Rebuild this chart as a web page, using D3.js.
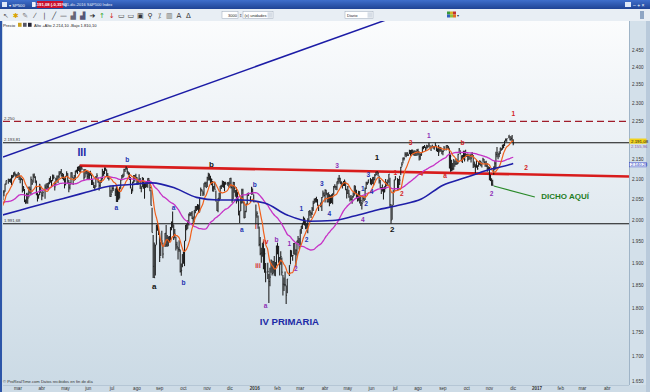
<!DOCTYPE html>
<html><head><meta charset="utf-8">
<script src="https://cdnjs.cloudflare.com/ajax/libs/d3/7.8.5/d3.min.js"></script>
<style>html,body{margin:0;padding:0;background:#fff;overflow:hidden}svg{display:block;font-family:"Liberation Sans",Arial,sans-serif}</style>
</head><body><svg id="c" width="650" height="392"></svg>
<script>
// ---------------- DATA ----------------
const firstDay = "2015-02-02";
const holidays = ["2015-02-16","2015-04-03","2015-05-25","2015-07-03","2015-09-07","2015-11-26","2015-12-25",
 "2016-01-01","2016-01-18","2016-02-15","2016-03-25","2016-05-30","2016-07-04","2016-09-05","2016-11-24"];

// S&P 500 daily lows / highs / closes, Feb 2015 -> 1 Dec 2016
const lows = [
1980.9,2022.7,2036.7,2043.5,2050.5,2041.9,2048.4,2058.4,2069.0,2086.7,2089.0,2093.3,2091.5,2085.6,2103.0,2105.0,2109.0,2103.8,2103.8,
2104.4,2098.3,2090.4,2098.3,2067.3,2071.3,2044.0,2039.7,2041.2,2040.0,2055.2,2065.0,2061.2,2085.6,2091.5,2103.9,2091.5,2061.1,2045.5,2052.0,2061.0,2067.0,
2048.4,2056.7,2052.0,2076.3,2076.3,2074.0,2088.0,2092.1,2083.2,2096.0,2100.5,2072.4,2085.6,2094.4,2091.1,2103.0,2112.5,2107.4,2100.9,2097.4,2077.5,
2085.5,2108.3,2088.4,2067.9,2075.0,2088.0,2104.9,2085.7,2096.9,2098.5,2117.0,2113.7,2120.7,2117.7,2117.5,2123.9,2099.2,2104.9,2112.8,2101.1,
2099.1,2099.1,2109.6,2086.0,2085.7,2078.6,2072.1,2081.1,2103.9,2091.3,2072.5,2079.7,2090.8,2099.3,2108.9,2112.9,2121.5,2107.7,2101.7,2097.4,2056.6,2056.3,
2067.0,2071.0,2058.5,2044.0,2044.0,2049.8,2052.3,2076.6,2096.9,2103.1,2107.4,2118.5,2124.1,2114.2,2110.2,2098.1,2077.2,2063.5,2069.5,2090.0,2094.1,2101.2,
2085.8,2085.7,2094.0,2076.0,2067.9,2080.0,2076.5,2052.1,2078.2,2080.6,2079.3,2094.1,2070.5,2035.7,1970.9,1867.0,1867.1,1872.8,1942.8,1975.2,1965.1,
1903.1,1916.5,1944.4,1911.8,1937.2,1937.9,1937.8,1939.2,1948.5,1953.0,1976.2,1982.3,1953.6,1958.0,1929.2,1933.3,1908.9,1926.2,1879.2,1871.9,1891.4,
1899.0,1893.7,1951.4,1976.4,1979.9,1987.5,2009.8,2010.0,2002.9,1990.7,1995.5,2016.8,2022.3,2025.0,2017.2,2019.0,2058.8,2069.6,2058.8,2059.8,2081.2,2079.2,
2080.8,2097.1,2097.1,2089.4,2085.5,2069.9,2069.3,2074.9,2045.4,2022.0,2019.4,2045.7,2050.9,2075.9,2081.2,2078.9,2070.3,2086.3,2084.1,2080.3,
2080.4,2077.1,2042.4,2051.2,2066.8,2056.8,2040.3,2045.5,2011.9,1993.3,2022.0,2040.1,2041.7,2005.1,2005.6,2019.4,2039.0,2058.7,2043.6,2061.9,2062.5,2043.6,
1989.7,2005.9,1979.9,1938.8,1918.5,1901.1,1915.0,1886.4,1878.9,1857.8,1864.6,1812.3,1848.9,1878.9,1872.7,1877.1,1872.2,1871.2,1894.4,
1920.5,1901.1,1872.7,1896.8,1872.7,1828.5,1838.1,1849.0,1810.1,1833.4,1871.4,1897.8,1915.1,1906.1,1920.3,1919.4,1891.0,1917.8,1947.3,1931.8,
1937.1,1968.4,1979.6,1989.4,1987.5,1979.6,1979.8,1969.2,1996.9,2011.1,2005.2,2012.4,2022.5,2040.6,2042.9,2043.1,2034.9,2022.5,2031.3,2022.5,2055.9,2057.6,
2043.1,2060.6,2042.6,2042.6,2033.8,2039.7,2041.7,2038.7,2062.0,2078.0,2073.3,2073.0,2087.8,2092.3,2088.6,2082.1,2077.5,2083.4,2083.4,2073.1,2052.3,
2063.4,2054.3,2045.4,2048.1,2039.5,2054.6,2059.3,2064.5,2051.9,2045.4,2047.3,2040.2,2034.5,2025.9,2043.1,2047.3,2049.0,2075.8,2085.7,2090.1,2087.1,
2085.4,2088.6,2085.1,2097.7,2109.4,2112.1,2107.7,2089.4,2078.5,2063.7,2069.7,2050.4,2067.2,2075.6,2083.3,2084.6,2091.3,2032.6,1991.7,2001.0,2036.3,2071.6,
2097.9,2074.0,2074.0,2085.8,2110.6,2131.7,2140.0,2147.6,2157.0,2155.8,2159.0,2159.1,2164.6,2159.8,2162.9,2163.2,2160.4,2159.0,2159.1,2159.7,
2161.4,2147.6,2149.8,2159.5,2168.2,2177.0,2179.9,2172.4,2177.9,2179.4,2184.1,2178.4,2172.2,2181.1,2178.3,2175.1,2184.0,2171.3,2169.7,2159.5,2170.2,2170.2,2164.0,
2161.1,2172.4,2173.3,2178.5,2177.2,2127.8,2119.1,2120.3,2122.4,2124.4,2131.9,2135.9,2136.9,2139.6,2166.0,2163.5,2145.2,2141.6,2150.3,2144.9,2156.5,
2156.5,2144.9,2150.5,2149.3,2142.6,2155.9,2128.9,2130.8,2114.7,2129.3,2124.4,2131.6,2136.3,2132.8,2130.0,2144.2,2139.8,2132.0,2131.5,2119.4,2124.4,
2097.9,2095.6,2083.8,2083.8,2111.8,2123.6,2125.4,2156.1,2151.2,2156.2,2164.4,2172.9,2175.4,2179.2,2185.3,2196.8,2196.1,2205.1,2199.3,2199.4,2198.1,
2187.4];
const highs = [
2021.7,2050.3,2054.7,2063.6,2072.4,2056.2,2070.9,2073.5,2089.0,2097.0,2101.3,2100.4,2102.1,2110.6,2110.0,2117.9,2119.6,2113.9,2112.7,
2117.5,2115.8,2107.7,2104.2,2100.9,2083.5,2076.2,2050.1,2066.4,2064.6,2081.4,2080.6,2106.9,2098.7,2113.9,2114.9,2107.6,2097.4,2067.2,2062.8,2088.9,2084.1,
2067.6,2072.2,2086.9,2089.8,2090.6,2092.4,2102.6,2107.7,2098.3,2111.9,2111.3,2094.9,2103.9,2109.6,2109.6,2120.5,2120.9,2125.9,2116.0,2113.2,2105.1,
2108.4,2120.5,2115.2,2098.4,2092.9,2117.7,2117.7,2105.1,2111.0,2121.5,2123.9,2131.8,2133.0,2134.7,2131.8,2132.0,2126.2,2126.1,2122.9,2120.9,
2119.2,2117.6,2121.9,2112.1,2100.0,2093.0,2085.7,2108.5,2115.0,2104.9,2094.1,2097.4,2106.8,2126.6,2121.2,2130.0,2129.9,2125.1,2116.0,2108.9,2084.0,2074.3,
2082.8,2085.1,2077.5,2083.7,2079.1,2074.3,2081.3,2100.7,2111.0,2114.2,2126.6,2127.0,2132.8,2128.9,2119.6,2116.9,2106.0,2077.5,2094.1,2110.6,2110.6,2114.2,
2105.7,2101.5,2112.7,2103.5,2082.6,2105.4,2103.2,2089.1,2092.9,2092.8,2102.9,2103.5,2096.2,2073.5,2029.9,1965.1,1948.0,1943.1,1989.6,1993.5,1986.7,
1970.4,1948.9,1975.0,1947.8,1970.1,1988.6,1965.0,1961.0,1963.1,1983.8,1997.3,2020.9,1989.6,1979.6,1961.0,1949.5,1937.2,1952.9,1931.4,1899.5,1920.5,
1927.2,1951.4,1989.4,1991.6,1999.8,2016.5,2020.1,2018.7,2022.3,2009.3,2024.2,2033.5,2034.5,2039.1,2037.9,2055.2,2079.7,2075.1,2070.4,2090.4,2094.1,2094.3,
2106.2,2116.5,2114.6,2108.8,2101.9,2095.9,2083.7,2093.8,2072.3,2044.7,2053.2,2066.8,2083.3,2086.7,2097.1,2095.6,2094.1,2093.8,2093.3,2093.8,
2103.4,2104.3,2085.0,2093.8,2093.2,2073.4,2080.3,2068.9,2052.2,2022.9,2053.9,2076.7,2076.4,2044.5,2022.9,2039.6,2064.7,2067.4,2057.8,2081.6,2077.3,2062.5,
2038.2,2021.9,2011.7,1985.3,1960.4,1935.7,1947.4,1950.3,1934.5,1900.5,1901.4,1876.2,1889.9,1908.9,1906.3,1905.5,1916.8,1902.9,1940.2,
1947.2,1939.4,1914.3,1927.4,1913.1,1873.7,1868.3,1881.6,1850.5,1864.8,1895.8,1930.7,1930.0,1918.8,1946.7,1946.7,1932.1,1951.8,1962.9,1958.0,
1978.4,1986.5,1993.7,2009.1,2006.1,1998.5,1992.7,2005.1,2022.4,2024.6,2020.4,2032.0,2047.0,2052.4,2053.9,2056.6,2051.0,2036.7,2043.0,2056.0,2072.2,2067.9,
2075.1,2074.0,2066.1,2067.3,2062.9,2060.6,2062.9,2065.3,2083.2,2087.8,2083.2,2094.7,2104.1,2111.1,2103.9,2095.5,2091.6,2096.0,2099.9,2094.3,2075.8,
2083.4,2074.4,2060.0,2061.2,2057.7,2067.9,2084.9,2083.8,2073.9,2064.1,2071.9,2070.8,2060.6,2044.6,2058.4,2055.6,2079.9,2094.3,2094.1,2099.1,2103.5,
2100.0,2105.3,2106.0,2113.3,2119.2,2120.6,2118.1,2109.0,2098.1,2081.1,2087.1,2079.6,2082.9,2100.7,2094.3,2099.5,2113.3,2103.8,2038.3,2036.1,2073.0,2098.9,
2108.7,2102.9,2100.7,2109.1,2131.7,2143.2,2155.4,2156.5,2169.1,2168.9,2169.1,2163.9,2175.6,2174.6,2175.6,2175.6,2173.5,2174.0,2172.9,2177.1,
2178.3,2170.8,2165.7,2168.2,2182.9,2185.4,2187.7,2183.4,2188.5,2186.3,2193.8,2187.8,2183.6,2188.5,2185.4,2185.2,2193.4,2186.3,2179.4,2187.9,2183.5,2182.3,2174.8,
2173.6,2184.9,2186.6,2187.9,2185.4,2179.4,2163.3,2149.4,2141.3,2151.3,2146.5,2153.6,2150.8,2165.1,2179.9,2173.8,2161.1,2161.8,2172.7,2172.7,2175.3,
2164.4,2165.5,2163.9,2162.9,2165.9,2169.6,2161.6,2145.4,2138.2,2149.2,2135.6,2144.4,2148.4,2147.2,2142.6,2154.8,2151.5,2145.7,2147.1,2140.7,2133.3,
2131.1,2111.8,2102.6,2099.1,2132.4,2146.9,2170.1,2182.3,2165.9,2171.4,2180.8,2179.2,2188.1,2189.9,2198.7,2204.8,2204.2,2213.4,2211.6,2210.5,2214.1,
2202.6];
const closes = [
2020.9,2050.0,2041.5,2062.5,2055.5,2046.7,2068.6,2068.5,2088.5,2097.0,2100.3,2099.7,2097.5,2110.3,2109.7,2115.5,2113.9,2110.7,2104.5,
2117.4,2107.8,2098.5,2101.0,2071.3,2079.4,2044.2,2040.2,2066.0,2053.4,2081.2,2074.3,2099.5,2089.3,2108.1,2104.4,2091.5,2061.1,2056.2,2061.0,2086.2,2067.9,
2059.7,2067.0,2080.6,2076.3,2081.9,2091.2,2102.1,2092.4,2095.8,2106.6,2105.0,2081.2,2100.4,2097.3,2108.0,2112.9,2117.7,2108.9,2114.8,2106.9,2085.5,
2108.3,2114.5,2089.5,2080.2,2088.0,2116.1,2105.3,2099.1,2098.5,2121.1,2122.7,2129.2,2127.8,2125.9,2130.8,2126.1,2104.2,2123.5,2120.8,2107.4,
2111.7,2109.6,2114.1,2095.8,2092.8,2079.3,2080.2,2105.2,2108.9,2094.1,2084.4,2096.3,2100.4,2121.2,2110.0,2122.9,2124.2,2108.6,2102.3,2101.5,2057.6,2063.1,
2077.4,2076.8,2068.8,2081.3,2046.7,2051.3,2076.6,2099.6,2109.0,2107.4,2124.3,2126.6,2128.3,2119.2,2114.2,2102.2,2079.7,2067.6,2093.3,2108.6,2108.6,2103.8,
2098.0,2093.3,2099.8,2083.6,2077.6,2104.2,2084.1,2086.1,2083.4,2091.5,2102.4,2096.9,2079.6,2035.7,1970.9,1893.2,1867.6,1940.5,1987.7,1988.9,1972.2,
1913.9,1948.9,1951.1,1921.2,1969.4,1942.0,1952.3,1961.1,1953.0,1978.1,1995.3,1990.2,1958.0,1967.0,1942.7,1938.8,1932.2,1931.3,1881.8,1884.1,1920.0,
1923.8,1951.4,1987.1,1979.9,1995.8,2013.4,2014.9,2017.5,2003.7,1994.2,2023.9,2033.1,2033.7,2030.8,2018.9,2052.5,2075.2,2071.2,2065.9,2090.4,2089.4,2079.4,
2104.1,2109.8,2102.3,2099.9,2099.2,2078.6,2081.7,2075.0,2046.0,2023.0,2053.2,2050.4,2083.6,2081.2,2089.2,2086.6,2089.1,2088.9,2090.1,2080.4,
2102.6,2079.5,2049.6,2091.7,2077.1,2063.6,2047.6,2052.2,2012.4,2021.9,2043.4,2073.1,2041.9,2005.6,2021.2,2039.0,2064.3,2061.0,2056.5,2078.4,2063.4,2043.9,
2012.7,2016.7,1990.3,1943.1,1922.0,1923.7,1938.7,1890.3,1921.8,1880.3,1881.3,1859.3,1869.0,1906.9,1877.1,1903.6,1883.0,1893.4,1940.2,
1939.4,1903.0,1912.5,1915.5,1880.1,1853.4,1852.2,1851.9,1829.1,1864.8,1895.6,1926.8,1917.8,1917.8,1945.5,1921.3,1929.8,1951.7,1948.1,1932.2,
1978.4,1986.5,1993.4,2000.0,2001.8,1979.3,1989.3,1989.6,2022.2,2019.6,2015.9,2027.2,2040.6,2049.6,2051.6,2049.8,2036.7,2035.9,2037.1,2055.0,2064.0,2059.7,
2072.8,2066.1,2045.2,2066.7,2041.9,2047.6,2042.0,2061.7,2082.4,2082.8,2080.7,2094.3,2100.8,2102.4,2091.5,2091.6,2087.8,2091.7,2095.2,2075.8,2065.3,
2081.4,2063.4,2051.1,2050.6,2057.1,2058.7,2084.4,2064.5,2064.1,2046.6,2066.7,2047.2,2047.6,2040.0,2052.3,2048.0,2076.1,2090.5,2090.1,2099.1,2097.0,
2099.3,2105.3,2099.1,2109.4,2112.1,2119.1,2115.5,2096.1,2079.1,2075.3,2071.5,2078.0,2071.2,2083.3,2088.9,2085.5,2113.3,2037.4,2000.5,2036.1,2070.8,2098.9,
2103.0,2088.6,2099.7,2097.9,2129.9,2137.2,2152.1,2152.4,2163.8,2161.7,2166.9,2163.8,2173.0,2165.2,2175.0,2168.5,2169.2,2166.6,2170.1,2173.6,
2170.8,2157.0,2163.8,2164.3,2182.9,2180.9,2181.7,2175.5,2185.8,2184.1,2190.2,2178.2,2182.2,2187.0,2183.9,2182.6,2186.9,2175.4,2172.5,2169.0,2180.4,2176.1,2171.0,
2170.9,2180.0,2186.5,2186.2,2181.3,2127.8,2159.0,2127.0,2125.8,2147.3,2139.2,2139.1,2139.8,2163.1,2177.2,2164.7,2146.1,2159.9,2171.4,2151.1,2168.3,
2161.2,2150.5,2159.7,2160.8,2153.7,2163.7,2136.7,2139.2,2132.6,2133.0,2126.5,2139.6,2144.3,2141.3,2141.2,2151.3,2143.2,2139.4,2133.0,2126.4,2126.2,
2111.7,2097.9,2088.7,2085.2,2131.5,2139.6,2163.3,2167.5,2164.5,2164.2,2180.4,2176.9,2187.1,2181.9,2198.2,2202.9,2204.7,2213.4,2201.7,2204.7,2198.8,
2191.08];
// closes before the first bar (Nov 2014 - Jan 2015), used to seed the averages
const priorCloses = [2041.3,2051.8,2048.7,2052.8,2063.5,2069.4,2067.0,2072.8,2067.6,
2053.4,2066.6,2074.3,2071.9,2075.4,2060.3,2059.8,2026.1,2035.3,2002.3,1989.6,1972.7,2012.9,2061.2,2070.7,2078.5,2082.2,2081.9,2088.8,2090.6,2080.4,2058.9,
2058.2,2020.6,2002.6,2025.9,2062.1,2044.8,2028.3,2023.0,2011.3,1992.7,2019.4,2022.6,2032.1,2063.2,2051.8,2057.1,2029.6,2002.2,2021.3,1995.0];
const fastPeriod = 10, midPeriod = 50;
// 200-session average (every 20 sessions + last)
const slowIdx  = [0,20,40,60,80,100,120,140,160,180,200,220,240,260,280,300,320,340,360,380,400,420,440,460,463];
const slowVals = [2008.8,2023.4,2038.2,2052.8,2067.8,2082.2,2087.2,2091.3,2078.4,2055.4,2049.0,2049.0,2041.6,2012.6,1997.8,1999.4,2010.2,2024.7,2036.7,2051.4,2085.4,2104.4,2123.0,2137.4,2140.28];

const yTicks = [2450,2400,2350,2300,2250,2150,2100,2050,2000,1950,1900,1850,1800,1750,1700,1650];
const monthLabels = ["mar","abr","may","jun","jul","ago","sep","oct","nov","dic","2016","feb","mar","abr","may","jun","jul","ago","sep","oct","nov","dic","2017","feb","mar","abr"];
const hLevels = [{v:2250, label:"2.250", kind:"dash"},{v:2193.81,label:"2.193,81",kind:"solid"},{v:1991.68,label:"1.991,68",kind:"solid"}];
const trendBlue = [["2015-02-02",2150.8],["2015-09-01",2305.8]];
const trendRed  = [["2015-05-20",2134.7],["2016-11-01",2114.2]];
const greenArrow = [["2016-11-07",2083.4],["2016-12-29",2056.2]];
const annText  = ["III","b","a","b","a","a","b","a","b","i","iii","iv","b","a","1","2","1","2","3","4","3","4","1","2","3","4","1","2","1","2","3","4","1","a","b","2","1","2","DICHO AQUÍ","IV PRIMARIA"];
const annDate  = ["2015-05-22","2015-07-21","2015-07-07","2015-11-06","2015-09-18","2015-08-25","2015-10-01","2015-12-16","2016-01-01","2016-01-04","2016-01-06","2016-01-15","2016-01-29","2016-01-15","2016-02-16","2016-02-24","2016-03-02","2016-03-09","2016-03-29","2016-04-07","2016-04-18","2016-05-20","2016-05-20","2016-05-25","2016-05-27","2016-06-01","2016-06-08","2016-06-28","2016-07-01","2016-07-11","2016-07-21","2016-08-04","2016-08-15","2016-09-05","2016-09-27","2016-11-03","2016-12-01","2016-12-19","2017-02-07","2016-02-16"];
const annPrice = [2169.5,2151.5,2031.9,2138.7,2031.9,1847.2,1856.0,1979.3,2085.9,1986.4,1896.2,1951.2,1953.6,1807.9,1944.3,1889.4,2027.1,1953.6,2088.4,2017.4,2136.2,2003.0,2076.0,2039.2,2113.4,2071.0,2156.6,1977.0,2118.4,2066.1,2195.5,2115.9,2213.9,2110.9,2195.5,2066.1,2270.1,2131.1,2058.7,1773.7];
const annKind  = ["roman","blue","blue","black","blue","black","blue","blue","blue","red","red","red","purple","purple","purple","purple","blue","blue","blue","blue","purple","purple","blue","blue","blue","blue","black","black","red","red","red","red","purple","red","red","purple","red","red","green","title"];

// ---------------- RENDER ----------------
const W = 650, H = 392;
const P = {l:3, r:629, t:21, b:385};
const svg = d3.select("#c");
const parse = d3.utcParse("%Y-%m-%d");
const d0 = parse(firstDay);
function wIdx(d){ const days = Math.round((d - d0)/864e5); const wk = Math.floor(days/7); return wk*5 + Math.min(days - wk*7, 5); }
const hol = new Set(holidays);
const fmtD = d3.utcFormat("%Y-%m-%d");
const dates = [];
for (let d = new Date(d0); dates.length < lows.length; d = d3.utcDay.offset(d, 1)) {
  const wd = d.getUTCDay(); if (wd === 0 || wd === 6 || hol.has(fmtD(d))) continue; dates.push(new Date(d));
}
const x = d3.scaleLinear().domain([wIdx(parse("2016-01-01")), wIdx(parse("2017-01-02"))]).range([254.8, 537]);
const y = d3.scaleLog().domain([1650, 2450]).range([381.7, 50]);
const X = d => x(wIdx(typeof d === "string" ? parse(d) : d));
const loc = d3.formatLocale({decimal:",", thousands:".", grouping:[3], currency:["",""]});
const f0 = loc.format(",.0f"), f2 = loc.format(",.2f");

const defs = svg.append("defs");
const bg = defs.append("linearGradient").attr("id","bg").attr("x1",0).attr("y1",0).attr("x2",0).attr("y2",1);
bg.append("stop").attr("offset","0%").attr("stop-color","#fbfcfd");
bg.append("stop").attr("offset","100%").attr("stop-color","#cbdae5");
const tb = defs.append("linearGradient").attr("id","tb").attr("x1",0).attr("y1",0).attr("x2",0).attr("y2",1);
tb.append("stop").attr("offset","0%").attr("stop-color","#3f6fcc");
tb.append("stop").attr("offset","100%").attr("stop-color","#1f4394");
defs.append("clipPath").attr("id","clip").append("rect").attr("x",P.l).attr("y",P.t).attr("width",P.r-P.l).attr("height",P.b-P.t);

// frame
svg.append("rect").attr("width",W).attr("height",H).attr("fill","#cddbe6");
svg.append("rect").attr("x",P.l).attr("y",P.t).attr("width",P.r-P.l).attr("height",P.b-P.t).attr("fill","url(#bg)");
svg.append("rect").attr("x",P.r).attr("y",P.t).attr("width",17).attr("height",P.b-P.t).attr("fill","#d3e0ea");
svg.append("line").attr("x1",P.r+0.5).attr("x2",P.r+0.5).attr("y1",P.t).attr("y2",P.b).attr("stroke","#9fb4c7");
svg.append("line").attr("x1",P.l).attr("x2",P.r).attr("y1",P.b+0.5).attr("y2",P.b+0.5).attr("stroke","#b5c6d5");
svg.append("rect").attr("x",0).attr("y",9).attr("width",2).attr("height",H-9).attr("fill","#2c55a8");
svg.append("rect").attr("x",646).attr("y",9).attr("width",4).attr("height",H-9).attr("fill","#b9cadb");

// title bar
svg.append("rect").attr("width",W).attr("height",9).attr("fill","url(#tb)");
svg.append("rect").attr("x",2).attr("y",2).attr("width",5).attr("height",5).attr("fill","#dfe9f8");
svg.append("text").attr("x",9).attr("y",6.6).attr("font-size",4.2).attr("fill","#fff").text("▾ SP500");
svg.append("rect").attr("x",32).attr("y",2).attr("width",3.5).attr("height",5).attr("fill","#e8eef8");
svg.append("rect").attr("x",37).attr("y",1).attr("width",26).attr("height",7).attr("fill","#c8102e");
svg.append("text").attr("x",50).attr("y",6.4).attr("text-anchor","middle").attr("font-size",4.2).attr("font-weight","bold").attr("fill","#fff").text("2.191,08 (-0,35%)");
svg.append("text").attr("x",64.5).attr("y",6.4).attr("font-size",4).attr("fill","#e4ecfa").text("01-dic-2016  S&P500 Index");
svg.append("rect").attr("x",625).attr("y",2).attr("width",6).attr("height",5).attr("fill","#dfe8f6");
svg.append("text").attr("x",633).attr("y",6.8).attr("font-size",5).attr("fill","#fff").text("–  + ×");

// toolbar
svg.append("rect").attr("x",0).attr("y",9).attr("width",W).attr("height",12).attr("fill","#e8eef4");
const icons = [["↖","#666"],["✱","#d9a400"],["✎","#777"],["⁄","#444"],["|","#444"],["╱","#334"],["—","#333"],["▟","#667"],["▟","#557"],["➔","#222"],["↑","#28a428"],["↓","#d02020"],["▭","#333"],["▭","#333"],["▣","#333"],["⚲","#333"],["⁒","#555"],["▥","#666"],["A","#333"],["Δ","#333"]];
icons.forEach((ic,i)=>svg.append("text").attr("x",6+i*9.6).attr("y",18.3).attr("text-anchor","middle").attr("font-size",7).attr("fill",ic[1]).attr("font-family","DejaVu Sans").text(ic[0]));
svg.append("rect").attr("x",222).attr("y",11.5).attr("width",16).attr("height",7).attr("fill","#fff").attr("stroke","#9aa8b8").attr("stroke-width",0.5);
svg.append("text").attr("x",237).attr("y",16.8).attr("text-anchor","end").attr("font-size",4).attr("fill","#222").text("3000");
svg.append("text").attr("x",238.5).attr("y",16.8).attr("font-size",4).attr("fill","#555").text("⇕");
svg.append("rect").attr("x",243).attr("y",11.5).attr("width",30).attr("height",7).attr("fill","#fff").attr("stroke","#9aa8b8").attr("stroke-width",0.5);
svg.append("text").attr("x",244.5).attr("y",16.8).attr("font-size",4).attr("fill","#222").text("(x) unidades");
svg.append("rect").attr("x",267.5).attr("y",12.3).attr("width",5).attr("height",5.4).attr("fill","#d6dde6");
svg.append("rect").attr("x",345).attr("y",11.5).attr("width",28).attr("height",7).attr("fill","#fff").attr("stroke","#9aa8b8").attr("stroke-width",0.5);
svg.append("text").attr("x",347).attr("y",16.8).attr("font-size",4).attr("fill","#222").text("Diario");
svg.append("rect").attr("x",367.5).attr("y",12.3).attr("width",5).attr("height",5.4).attr("fill","#d6dde6");
[["#3a9a3a",0,0],["#d8b020",3,0],["#c03030",6,0],["#3060c0",0,3],["#8fbf3f",3,3],["#e07020",6,3]].forEach(c=>svg.append("rect").attr("x",447+c[1]).attr("y",11.5+c[2]).attr("width",3).attr("height",3).attr("fill",c[0]));
svg.append("text").attr("x",457).attr("y",17).attr("font-size",4).attr("fill","#333").text("▾");
svg.append("rect").attr("x",640).attr("y",11).attr("width",4).attr("height",8).attr("fill","#8fa6c4");

// plot layer
const g = svg.append("g").attr("clip-path","url(#clip)");

// horizontal levels
hLevels.forEach(h=>{
  g.append("line").attr("x1",P.l).attr("x2",P.r).attr("y1",y(h.v)).attr("y2",y(h.v))
   .attr("stroke",h.kind==="dash"?"#a01c2a":"#111").attr("stroke-width",h.kind==="dash"?1.2:1.1)
   .attr("stroke-dasharray",h.kind==="dash"?"7,4":null);
  g.append("text").attr("x",4).attr("y",y(h.v)-1.6).attr("font-size",4.2).attr("fill","#333").text(h.label);
});

// extend a two-point line to the plot edges (straight in screen space)
function extLine(pts, x0, x1){
  const ax=X(pts[0][0]), ay=y(pts[0][1]), bx=X(pts[1][0]), by=y(pts[1][1]);
  const s=(by-ay)/(bx-ax); return [[x0, ay+(x0-ax)*s],[x1, ay+(x1-ax)*s]];
}
const lb = extLine(trendBlue, P.l, P.r);
g.append("line").attr("x1",lb[0][0]).attr("y1",lb[0][1]).attr("x2",lb[1][0]).attr("y2",lb[1][1]).attr("stroke","#1c1ca6").attr("stroke-width",1.5);
const lr = extLine(trendRed, X(trendRed[0][0]), P.r);
g.append("line").attr("x1",lr[0][0]).attr("y1",lr[0][1]).attr("x2",lr[1][0]).attr("y2",lr[1][1]).attr("stroke","#d81c1c").attr("stroke-width",2.6);

// bars
const n = Math.min(lows.length, highs.length, closes.length, dates.length);
const bars = d3.range(n);
g.append("g").selectAll("line").data(bars).join("line")
  .attr("x1",i=>X(dates[i])).attr("x2",i=>X(dates[i]))
  .attr("y1",i=>y(lows[i])).attr("y2",i=>y(highs[i]))
  .attr("stroke","#1b1b1b").attr("stroke-width",1.05);
g.append("g").selectAll("line").data(bars).join("line")
  .attr("x1",i=>X(dates[i])).attr("x2",i=>X(dates[i])+0.9)
  .attr("y1",i=>y(closes[i])).attr("y2",i=>y(closes[i]))
  .attr("stroke","#1b1b1b").attr("stroke-width",0.8);

// moving averages
const all = priorCloses.concat(closes.slice(0,n));
const off = priorCloses.length;
function sma(p){ return bars.map(i=>d3.mean(all.slice(i+off-p+1, i+off+1))); }
const fast = sma(fastPeriod), mid = sma(midPeriod);
const line = d3.line().x(i=>X(dates[i])).curve(d3.curveMonotoneX);
g.append("path").attr("d", line.y(i=>y(mid[i]))(bars)).attr("fill","none").attr("stroke","#c632c6").attr("stroke-width",1.3);
g.append("path").attr("d", line.y(i=>y(fast[i]))(bars)).attr("fill","none").attr("stroke","#f0601c").attr("stroke-width",1.2);
const slowLine = d3.line().x((d,k)=>X(dates[Math.min(slowIdx[k],n-1)])).y(d=>y(d)).curve(d3.curveMonotoneX);
g.append("path").attr("d", slowLine(slowVals)).attr("fill","none").attr("stroke","#1f1fa8").attr("stroke-width",1.6);

// green pointer
g.append("line").attr("x1",X(greenArrow[0][0])).attr("y1",y(greenArrow[0][1])).attr("x2",X(greenArrow[1][0])).attr("y2",y(greenArrow[1][1])).attr("stroke","#2a8a2a").attr("stroke-width",1.2);

// annotations
const kindStyle = {
  roman:{c:"#1c2aa6",s:10.5,w:"bold"}, title:{c:"#1c2aa6",s:9.6,w:"bold"}, green:{c:"#1f7d1f",s:8,w:"bold"},
  blue:{c:"#2432b0",s:6.6,w:"bold"}, black:{c:"#111",s:8,w:"bold"}, red:{c:"#d42424",s:6.6,w:"bold"},
  purple:{c:"#8e2fb6",s:6.6,w:"bold"}
};
annText.forEach((t,k)=>{
  const st = kindStyle[annKind[k]];
  g.append("text").attr("x",X(annDate[k])).attr("y",y(annPrice[k])).attr("text-anchor","middle").attr("dominant-baseline","central")
   .attr("font-size",st.s).attr("font-weight",st.w).attr("fill",st.c).attr("font-family","Liberation Sans, Arial, sans-serif").text(t);
});

// "Precio" header row and footer
svg.append("text").attr("x",3).attr("y",26.5).attr("font-size",4.3).attr("fill","#222").text("Precio");
[["#caa020",18],["#556",23],["#223",28]].forEach(c=>svg.append("rect").attr("x",c[1]).attr("y",22.8).attr("width",3.6).attr("height",4).attr("fill",c[0]));
svg.append("text").attr("x",34).attr("y",26.5).attr("font-size",4.1).attr("fill","#222").text("Alto +Alto 2.214,10 -Bajo 1.810,10");
svg.append("text").attr("x",3).attr("y",383).attr("font-size",4.1).attr("fill","#333").text("© ProRealTime.com  Datos recibidos en fin de día");

// right axis
yTicks.forEach(v=>svg.append("text").attr("x",632).attr("y",y(v)+1.5).attr("font-size",4.6).attr("fill","#333").text(f0(v)));
const lastC = closes[n-1];
const yl = y(lastC)-2.6;
svg.append("rect").attr("x",629.5).attr("y",yl-2.6).attr("width",17).attr("height",5.2).attr("fill","#f2d21b");
svg.append("text").attr("x",631).attr("y",yl+1.6).attr("font-size",4.4).attr("fill","#111").text(f2(lastC));
svg.append("text").attr("x",631).attr("y",yl+7.2).attr("font-size",4.2).attr("fill","#8a5aa8").text(f2(mid[n-1]));
const lastSlow = slowVals[slowVals.length-1];
const ys = y(lastSlow)+1.2;
svg.append("rect").attr("x",629.5).attr("y",ys-2.3).attr("width",17).attr("height",4.6).attr("fill","#eef2fb").attr("stroke","#2b3fc0").attr("stroke-width",0.5);
svg.append("text").attr("x",631).attr("y",ys+1.5).attr("font-size",4.2).attr("fill","#2b3fc0").text(f2(lastSlow));

// month axis
const months = d3.utcMonth.range(Date.UTC(2015,2,1), Date.UTC(2017,4,1));
months.forEach((m,k)=>{
  let d = new Date(m); while (d.getUTCDay()===0 || d.getUTCDay()===6) d = d3.utcDay.offset(d,1);
  svg.append("text").attr("x",X(d)).attr("y",390.3).attr("text-anchor","middle").attr("font-size",4.6)
    .attr("font-weight",/^\d/.test(monthLabels[k])?"bold":"normal").attr("fill","#333").text(monthLabels[k]);
});
</script></body></html>
